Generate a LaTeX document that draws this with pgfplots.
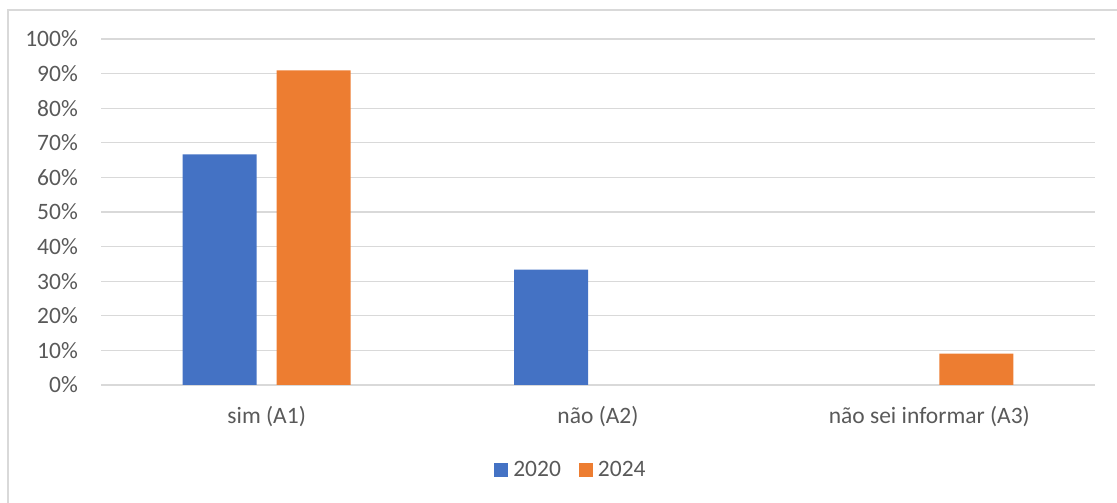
\documentclass[border=0pt]{standalone}
\usepackage{fontspec}
\setmainfont{Carlito}
\usepackage{pgfplots}
\pgfplotsset{compat=1.18}
\definecolor{xlblue}{HTML}{4472C4}
\definecolor{xlorange}{HTML}{ED7D31}
\definecolor{gridgray}{HTML}{D9D9D9}
\definecolor{txtgray}{HTML}{595959}
\begin{document}
\begin{tikzpicture}[font=\fontsize{23.5}{28}\selectfont]
\path[use as bounding box] (0,0) rectangle (1117pt,503pt);
% chart frame
\draw[gridgray, line width=1.3pt] (8pt,0) -- (8pt,493pt) -- (1117pt,493pt);
\begin{axis}[
  at={(101pt,118pt)}, anchor=south west,
  scale only axis, width=994pt, height=346pt,
  xmin=-0.5, xmax=2.5, ymin=0, ymax=100,
  ytick={0,10,...,100},
  xtick={0,1,2},
  xticklabels={sim (A1), não (A2), não sei informar (A3)},
  axis line style={draw=none},
  major tick length=0pt,
  ymajorgrids, grid style={gridgray, line width=1.3pt},
  /pgf/number format/assume math mode=true,
  yticklabel={\pgfmathprintnumber{\tick}\%},
  yticklabel style={inner sep=0pt, anchor=east, xshift=-23pt, text=txtgray},
  xticklabel style={inner sep=0pt, anchor=base, yshift=-39pt, text=txtgray},
  ybar, bar width=74pt,
  legend columns=2,
  legend style={at={(0.4718,-0.2457)}, anchor=center, draw=none, fill=none,
    text=txtgray, nodes={inner xsep=0pt, inner ysep=0pt},
    /tikz/every odd column/.append style={column sep=5pt},
    /tikz/every even column/.append style={column sep=18pt}},
  legend image code/.code={\fill[#1] (0pt,-7pt) rectangle (14pt,7pt);},
]
% 2020 (zero share for "não sei informar" left out)
\addplot[fill=xlblue, draw=none, bar shift=-47pt] coordinates {(0,66.67) (1,33.33)};
% 2024 (zero share for "não" left out)
\addplot[fill=xlorange, draw=none, bar shift=47pt] coordinates {(0,90.91) (2,9.09)};
\legend{2020, 2024}
\end{axis}
\end{tikzpicture}
\end{document}
